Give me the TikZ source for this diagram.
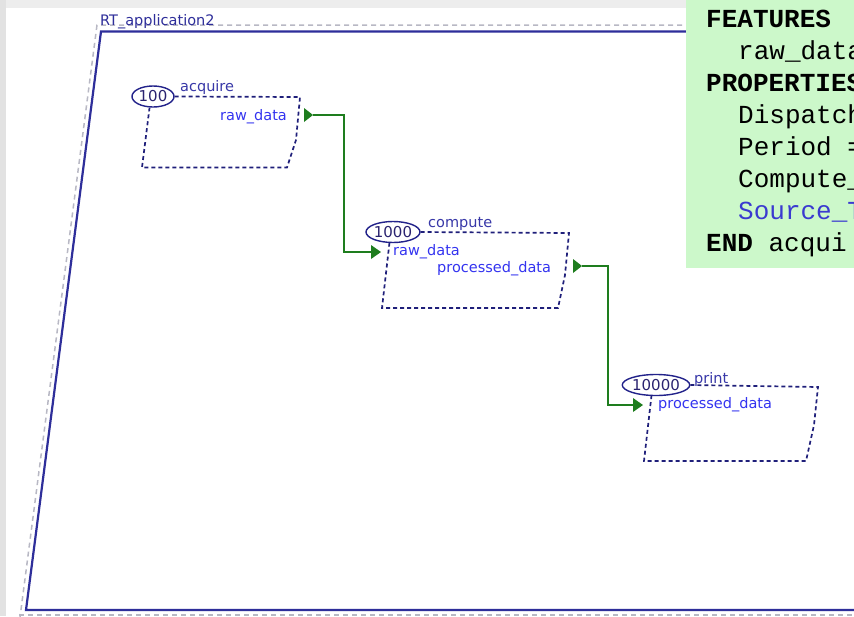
\documentclass[tikz,border=0pt]{standalone}
\usepackage{fontspec}
\setmainfont{DejaVu Sans}
\newfontfamily\codefont{Liberation Mono}
\usetikzlibrary{shapes.geometric}
\definecolor{bgray}{HTML}{E2E2E2}
\definecolor{topgray}{HTML}{EDEDED}
\definecolor{framecol}{HTML}{2E2E9A}
\definecolor{ghostcol}{HTML}{B8B8C4}
\definecolor{boxcol}{HTML}{1F1F7A}
\definecolor{ellcol}{HTML}{22228A}
\definecolor{numcol}{HTML}{2A2370}
\definecolor{namecol}{HTML}{3838A8}
\definecolor{portcol}{HTML}{3434F0}
\definecolor{conncol}{HTML}{1E7D1E}
\definecolor{codebg}{HTML}{CCF8CA}
\definecolor{codeblue}{HTML}{3A3AD0}
\begin{document}
\begin{tikzpicture}[x=1pt,y=-1pt,
  lbl/.style={font=\fontsize{14.5}{16}\selectfont, inner sep=0pt, anchor=base west},
  namelbl/.style={lbl, text=namecol},
  portlbl/.style={lbl, text=portcol},
  numell/.style={ellipse, draw=ellcol, line width=1.4pt, inner sep=0pt, minimum height=21pt, text=numcol, font=\fontsize{15}{16}\selectfont},
  compbox/.style={draw=boxcol, line width=1.7pt, dash pattern=on 4pt off 3pt},
  conn/.style={draw=conncol, line width=1.5pt},
  porttri/.style={fill=conncol},
  ghost/.style={draw=ghostcol, line width=1.5pt, dash pattern=on 5pt off 4pt},
  codeline/.style={font=\codefont\fontsize{26}{28}\selectfont, inner sep=0pt, anchor=base west}]
\useasboundingbox (0,0) rectangle (854,616);
\fill[bgray] (0,0) rectangle (854,616);
\fill[topgray] (6,0) rectangle (854,8);
\fill[white] (6,8) rectangle (854,616);
\begin{scope}
  \clip (0,0) rectangle (854,616);
  % system frame
  \draw[ghost] (880,25) -- (97,25) -- (19,625);
  \draw[ghost] (19,615) -- (880,615);
  \draw[framecol, line width=2.2pt] (880,31.5) -- (101,31.5) -- (26,610) -- (880,610);
  \node[namelbl, text=framecol] (sysname) at (100,25) {RT\_application2};

  % acquire
  \node[numell, minimum width=42pt] (e1) at (153,96.5) {100};
  \node[namelbl] (n1) at (180,91) {acquire};
  \draw[compbox] (e1.east) -- (300,97) -- (296,140) -- (287,167.5) -- (142,167.5) -- (149.5,108);
  \node[portlbl] (a1) at (220,120) {raw\_data};
  \coordinate (a1o) at (313,115);
  \fill[porttri] (304,108) -- (a1o) -- (304,122) -- cycle;

  % compute
  \node[numell, minimum width=50pt] (e2) at (393,232) {1000};
  \node[namelbl] (n2) at (428,227) {compute};
  \draw[compbox] (e2.east) -- (569,233) -- (565,275) -- (558,308) -- (382,308) -- (389.5,242.5);
  \node[portlbl] (c1) at (393,255.5) {raw\_data};
  \node[portlbl] (c2) at (437,272) {processed\_data};
  \coordinate (c1i) at (371,252);
  \fill[porttri] (c1i) -- ++(0,-7) -- ++(10,7) -- ++(-10,7) -- cycle;
  \coordinate (c2o) at (582,266);
  \fill[porttri] (573,259) -- (c2o) -- (573,273) -- cycle;

  % print
  \node[numell, minimum width=60pt] (e3) at (656,385) {10000};
  \node[namelbl] (n3) at (694,383) {print};
  \draw[compbox] (e3.east) -- (818,387) -- (814,425) -- (806,461) -- (644,461) -- (651.5,395.5);
  \node[portlbl] (p1) at (658,408) {processed\_data};
  \coordinate (p1i) at (633,405);
  \fill[porttri] (p1i) -- ++(0,-7) -- ++(10,7) -- ++(-10,7) -- cycle;

  % connections
  \draw[conn] (a1o) -- (344,115) |- (c1i);
  \draw[conn] (c2o) -- (608,266) |- (p1i);

  % AADL text panel
  \fill[codebg] (686,0) rectangle (880,268);
  \node[codeline] (t1) at (706,27) {\bfseries FEATURES};
  \node[codeline] (t2) at (738,59) {raw\_data};
  \node[codeline] (t3) at (706,91) {\bfseries PROPERTIES};
  \node[codeline] (t4) at (738,123) {Dispatch};
  \node[codeline] (t5) at (738,155) {Period =};
  \node[codeline] (t6) at (738,187) {Compute\_};
  \node[codeline, text=codeblue] (t7) at (738,219) {Source\_T};
  \node[codeline] (t8) at (706,251) {\textbf{END} acqui};
\end{scope}
\end{tikzpicture}
\end{document}
